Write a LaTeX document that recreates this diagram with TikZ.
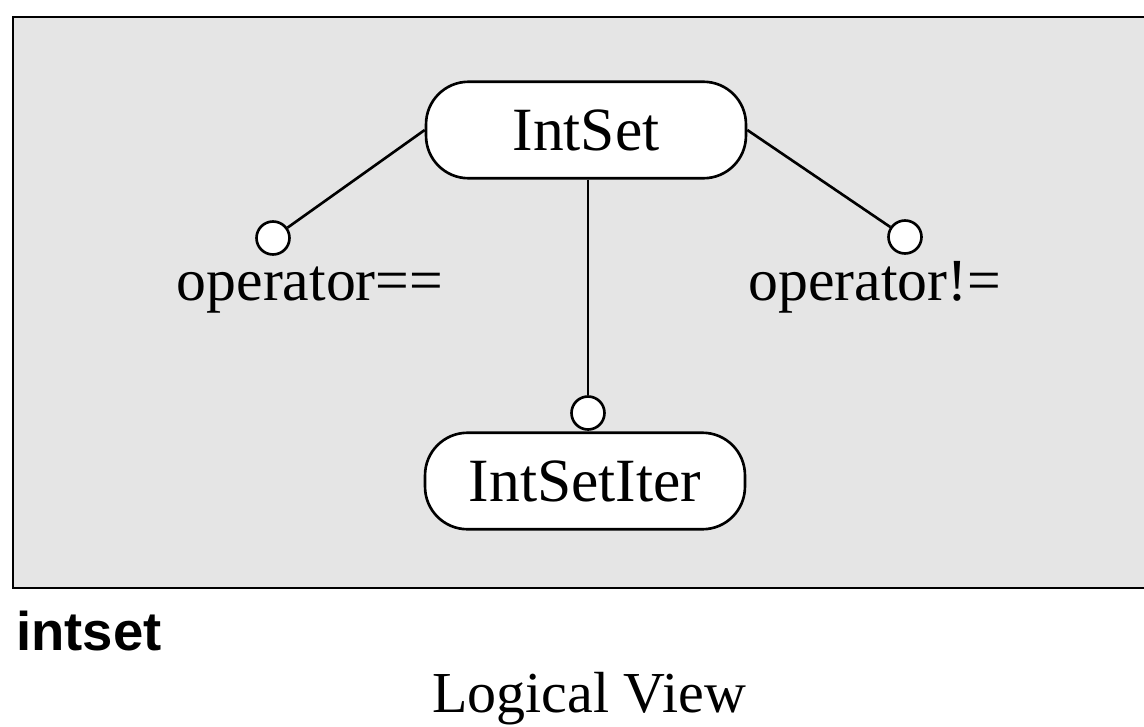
\documentclass[tikz,border=0pt]{standalone}
\usepackage{fontspec}
\setmainfont{Liberation Serif}
\setsansfont{Liberation Sans}
\begin{document}
\begin{tikzpicture}[x=0.02cm, y=-0.02cm, line width=1.5pt,
    classbox/.style={draw, rounded corners=0.85cm, fill=white, minimum width=6.4cm, minimum height=1.93cm, inner sep=0pt, font=\fontsize{35}{40}\selectfont},
    iface/.style={circle, draw, fill=white, inner sep=0pt, minimum size=0.66cm},
    opname/.style={inner sep=0pt, font=\fontsize{34}{40}\selectfont}]
        \useasboundingbox (0,0) rectangle (1144,727);
        \fill[black!10] (13,17) rectangle (1150,588);
        \draw (1150,17) -- (13,17) -- (13,588) -- (1150,588);
        \node[classbox] (intset) at (586,130) {IntSet};
        \node[classbox] (setiter) at (585,481) {IntSetIter};
        \node[iface] (eqdot) at (273,238) {};
        \node[iface] (nedot) at (905,237) {};
        \node[iface] (iterdot) at (588,413) {};
        \draw (intset.west) -- (eqdot);
        \draw (intset.east) -- (nedot);
        \draw (intset.south -| iterdot) -- (iterdot);
        \node[opname, anchor=base] (eqop) at (310,300) {operator==};
        \node[opname, anchor=base] (neop) at (875,300) {operator!=};
        \node[inner sep=0pt, anchor=base west, font=\sffamily\bfseries\fontsize{31}{36}\selectfont] (pkg) at (15,650) {intset};
        \node[inner sep=0pt, anchor=base, font=\fontsize{33}{40}\selectfont] (view) at (589,712) {Logical View};
\end{tikzpicture}
\end{document}
